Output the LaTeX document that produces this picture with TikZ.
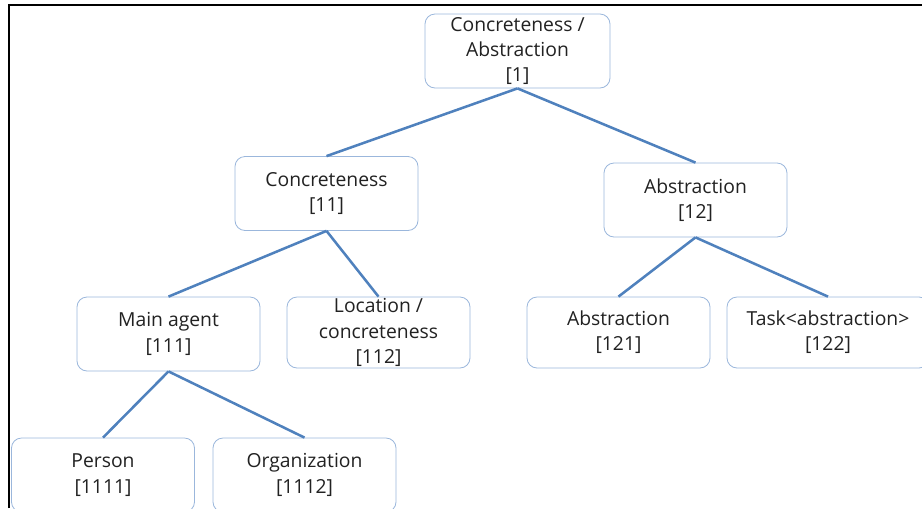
\documentclass[tikz,border=0pt]{standalone}
\usepackage{fontspec}
\setmainfont{Open Sans}
\definecolor{linkblue}{HTML}{4F81BD}
\definecolor{boxblue}{HTML}{9BB7DC}
\definecolor{txtgray}{HTML}{222222}
\begin{document}
\begin{tikzpicture}[x=0.75pt,y=-0.75pt,
		box/.style={draw=boxblue, line width=0.6pt, rounded corners=7.5pt, fill=white,
			minimum width=137.25pt, minimum height=55.5pt, inner sep=0pt,
			align=center, text=txtgray, font=\fontsize{14.5}{19}\selectfont},
		link/.style={draw=linkblue, line width=1.9pt}]
			\clip (0,0) rectangle (922,508);
			\node[box, minimum width=138.75pt] (r) at (517.5,51) {Concreteness /\\Abstraction\\{[1]}};
			\node[box] (c11) at (326.5,193.5) {Concreteness\\{[11]}};
			\node[box] (c12) at (695.5,200) {Abstraction\\{[12]}};
			\node[box] (c111) at (168.5,334) {Main agent\\{[111]}};
			\node[box, minimum height=53.25pt] (c112) at (378.5,332.5) {Location /\\concreteness\\{[112]}};
			\node[box, minimum height=53.25pt] (c121) at (618.5,332.5) {Abstraction\\{[121]}};
			\node[box, minimum height=53.25pt, minimum width=151.5pt] (c122) at (828,332.5) {Task<abstraction>\\{[122]}};
			\node[box] (c1111) at (103,475) {Person\\{[1111]}};
			\node[box] (c1112) at (304.5,475) {Organization\\{[1112]}};
			\draw[link] (r.south) -- (c11.north);
			\draw[link] (r.south) -- (c12.north);
			\draw[link] (c11.south) -- (c111.north);
			\draw[link] (c11.south) -- (c112.north);
			\draw[link] (c12.south) -- (c121.north);
			\draw[link] (c12.south) -- (c122.north);
			\draw[link] (c111.south) -- (c1111.north);
			\draw[link] (c111.south) -- (c1112.north);
			% frame of the screenshot
			\draw[line width=1.6pt] (9,508) -- (9,5) -- (922,5);
		\end{tikzpicture}
\end{document}
